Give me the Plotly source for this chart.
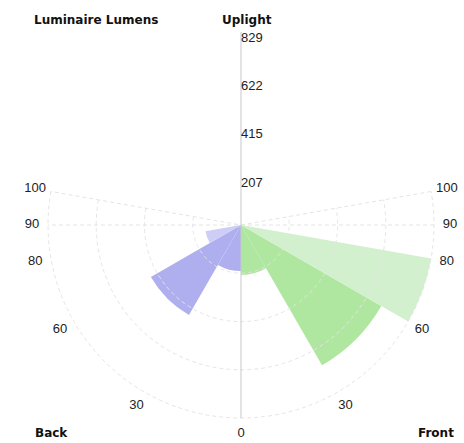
import plotly.graph_objects as go

# Zonal lumens (TM-15 zones), vertical angle measured from nadir
front_zones = ["FL", "FM", "FH", "FVH"]
front_start = [0, 30, 60, 80]
front_end = [30, 60, 80, 90]
front_lumens = [215, 696, 829, 0]

back_zones = ["BL", "BM", "BH", "BVH"]
back_start = [0, 30, 60, 80]
back_end = [30, 60, 80, 90]
back_lumens = [198, 447, 155, 0]

radial_ticks = [207, 415, 622, 829]
radial_labels = ["207", "415", "622", "829"]
angle_ticks = [0, 30, 60, 80, 90, 100]
grid_lines = [90, 100]

front_colors = ["rgb(175,230,160)", "rgb(175,230,160)", "rgb(210,240,205)", "rgb(210,240,205)"]
back_colors = ["rgb(175,175,240)", "rgb(175,175,240)", "rgb(205,205,245)", "rgb(205,205,245)"]

rmax = radial_ticks[-1]
R_PX = 193          # pixel radius of the outer (829) ring
R_OUT = 215         # pixel radius of the polar domain
CX, CY = 241, 225   # centre, pixels from top-left
W, H = 464, 443
grid_color = "#e4e4e4"
fig = go.Figure()

# guide lines: radial spokes and arcs from back 100 to front 100
arc_theta = [260 + i for i in range(0, 101)] + [i for i in range(1, 101)]
for rv in radial_ticks:
    fig.add_trace(go.Scatterpolar(r=[rv] * len(arc_theta), theta=arc_theta, mode="lines",
                                  line=dict(color=grid_color, width=1, dash="4px,3px"),
                                  hoverinfo="skip", showlegend=False))
for a in grid_lines:
    fig.add_trace(go.Scatterpolar(r=[rmax, 0, rmax], theta=[a, 0, 360 - a], mode="lines",
                                  line=dict(color=grid_color, width=1, dash="4px,3px"),
                                  hoverinfo="skip", showlegend=False))

fig.add_trace(go.Barpolar(
    r=front_lumens,
    theta=[(s + e) / 2 for s, e in zip(front_start, front_end)],
    width=[e - s for s, e in zip(front_start, front_end)],
    marker=dict(color=front_colors, line=dict(width=0)),
    text=front_zones, showlegend=False))
fig.add_trace(go.Barpolar(
    r=back_lumens,
    theta=[360 - (s + e) / 2 for s, e in zip(back_start, back_end)],
    width=[e - s for s, e in zip(back_start, back_end)],
    marker=dict(color=back_colors, line=dict(width=0)),
    text=back_zones, showlegend=False))

fig.add_trace(go.Scatterpolar(r=[rmax, 0, rmax], theta=[0, 0, 180], mode="lines",
                              line=dict(color="#c8c8c8", width=1),
                              hoverinfo="skip", showlegend=False))

tick_font = dict(family="Liberation Sans Narrow, Arial Narrow, Liberation Sans, sans-serif",
                 size=13, color="#222")

# radial value labels along the uplight axis
fig.add_trace(go.Scatterpolar(r=radial_ticks, theta=[180] * len(radial_ticks), mode="text",
                              text=radial_labels, textposition="bottom right",
                              textfont=tick_font, hoverinfo="skip", showlegend=False,
                              cliponaxis=False))

# angle labels outside the outer ring, front and back
lab_theta = angle_ticks + [360 - a for a in angle_ticks if a != 0]
lab_text = [str(a) for a in angle_ticks] + [str(a) for a in angle_ticks if a != 0]
fig.add_trace(go.Scatterpolar(r=[rmax * 209 / R_PX] * len(lab_theta), theta=lab_theta,
                              mode="text", text=lab_text, textposition="middle center",
                              textfont=tick_font, hoverinfo="skip", showlegend=False,
                              cliponaxis=False))

fig.update_layout(
    width=W, height=H,
    margin=dict(l=0, r=0, t=0, b=0),
    paper_bgcolor="white",
    polar=dict(
        domain=dict(x=[(CX - R_OUT) / W, (CX + R_OUT) / W],
                    y=[(H - CY - R_OUT) / H, (H - CY + R_OUT) / H]),
        bgcolor="rgba(0,0,0,0)",
        angularaxis=dict(rotation=-90, direction="counterclockwise",
                         showticklabels=False, showgrid=False, showline=False, ticks=""),
        radialaxis=dict(range=[0, rmax * R_OUT / R_PX], showticklabels=False,
                        showline=False, showgrid=False, ticks=""),
    ),
    bargap=0,
    font=tick_font,
)

title_font = dict(family="DejaVu Sans", size=12, color="#111")
for txt, x, y, anchor in [("<b>Luminaire Lumens</b>", 32, 20, "left"),
                          ("<b>Uplight</b>", 247, 20, "center"),
                          ("<b>Back</b>", 33, 433, "left"),
                          ("<b>Front</b>", 456, 433, "right")]:
    fig.add_annotation(text=txt, x=x / W, y=1 - y / H, xref="paper", yref="paper",
                       xanchor=anchor, yanchor="middle", showarrow=False, font=title_font)

fig.write_html("out.html", config={"displayModeBar": False},
               post_script="document.body.style.margin='0';")
